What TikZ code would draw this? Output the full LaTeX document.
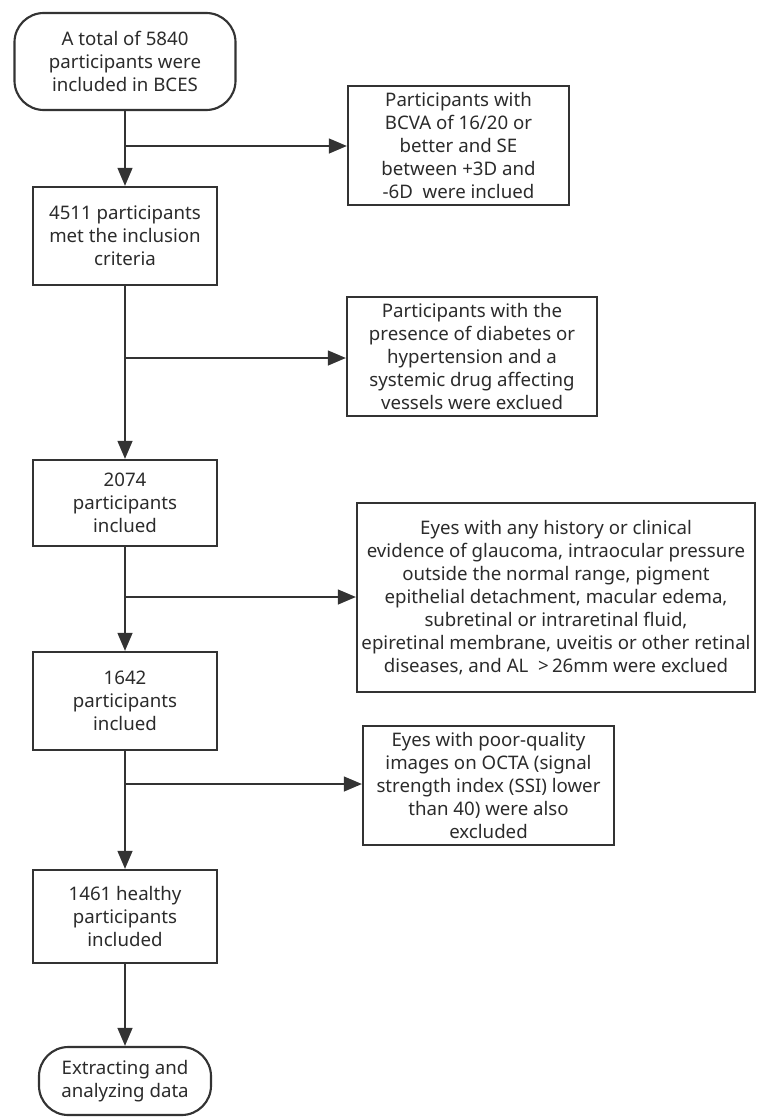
\documentclass[tikz,border=0pt]{standalone}
\usepackage{fontspec}
\setmainfont{Noto Sans}
\usepackage{tikz}
\usetikzlibrary{arrows.meta, positioning, calc}
\usepackage{xcolor}
\definecolor{linegray}{HTML}{333333}
\definecolor{textgray}{HTML}{2B2B2B}

\begin{document}
\begin{tikzpicture}[x=0.75pt, y=-0.75pt,
    box/.style={draw=linegray, line width=1.6pt, align=center, inner sep=0pt,
      text=textgray, font=\fontsize{14}{17.25}\selectfont},
    term/.style={box, rounded corners=22pt},
    arr/.style={draw=linegray, line width=1.6pt, -{Triangle[length=13.5pt, width=11pt]}}]
        \useasboundingbox (0,0) rectangle (757,1117);
        % Hauptkette
        \node[term, minimum width=165.75pt, minimum height=72.75pt] (start) at (125,61.5)
          {A total of 5840\\participants were\\included in BCES};
        \node[box, minimum width=138pt, minimum height=73.5pt] (n4511) at (125,236)
          {4511 participants\\met the inclusion\\criteria};
        \node[box, minimum width=138pt, minimum height=64.5pt] (n2074) at (125,503)
          {2074\\participants\\inclued};
        \node[box, minimum width=138pt, minimum height=73.5pt] (n1642) at (125,701)
          {1642\\participants\\inclued};
        \node[box, minimum width=138pt, minimum height=69.75pt] (n1461) at (125,916.5)
          {1461 healthy\\participants\\included};
        \node[term, minimum width=129pt, minimum height=51pt] (finish) at (125,1081)
          {Extracting and\\analyzing data};
        % Ausschluss-Boxen
        \node[box, minimum width=165.75pt, minimum height=89.25pt] (ex1) at (458.5,145.5)
          {Participants with\\BCVA of 16/20 or\\better and SE\\between +3D and\\-6D\ \ were inclued};
        \node[box, minimum width=187.5pt, minimum height=89.25pt] (ex2) at (472,356.5)
          {Participants with the\\presence of diabetes or\\hypertension and a\\systemic drug affecting\\vessels were exclued};
        \node[box, minimum width=298.5pt, minimum height=141.75pt] (ex3) at (556,597.5)
          {Eyes with any history or clinical\\evidence of glaucoma, intraocular pressure\\outside the normal range, pigment\\epithelial detachment, macular edema,\\subretinal or intraretinal fluid,\\epiretinal membrane, uveitis or other retinal\\diseases, and AL\ \ >\,26mm were exclued};
        \node[box, minimum width=188.25pt, minimum height=89.25pt] (ex4) at (488.5,785.5)
          {Eyes with poor-quality\\images on OCTA (signal\\strength index (SSI) lower\\than 40) were also\\excluded};
        % Abzweigpunkte
        \coordinate (b1) at (125,146);
        \coordinate (b2) at (125,358);
        \coordinate (b3) at (125,597);
        \coordinate (b4) at (125,784);
        % Pfeile
        \draw[arr] (start) -- (n4511);
        \draw[arr] (n4511) -- (n2074);
        \draw[arr] (n2074) -- (n1642);
        \draw[arr] (n1642) -- (n1461);
        \draw[arr] (n1461) -- (finish);
        \draw[arr] (b1) -- (b1 -| ex1.west);
        \draw[arr] (b2) -- (b2 -| ex2.west);
        \draw[arr] (b3) -- (b3 -| ex3.west);
        \draw[arr] (b4) -- (b4 -| ex4.west);
      \end{tikzpicture}
\end{document}
